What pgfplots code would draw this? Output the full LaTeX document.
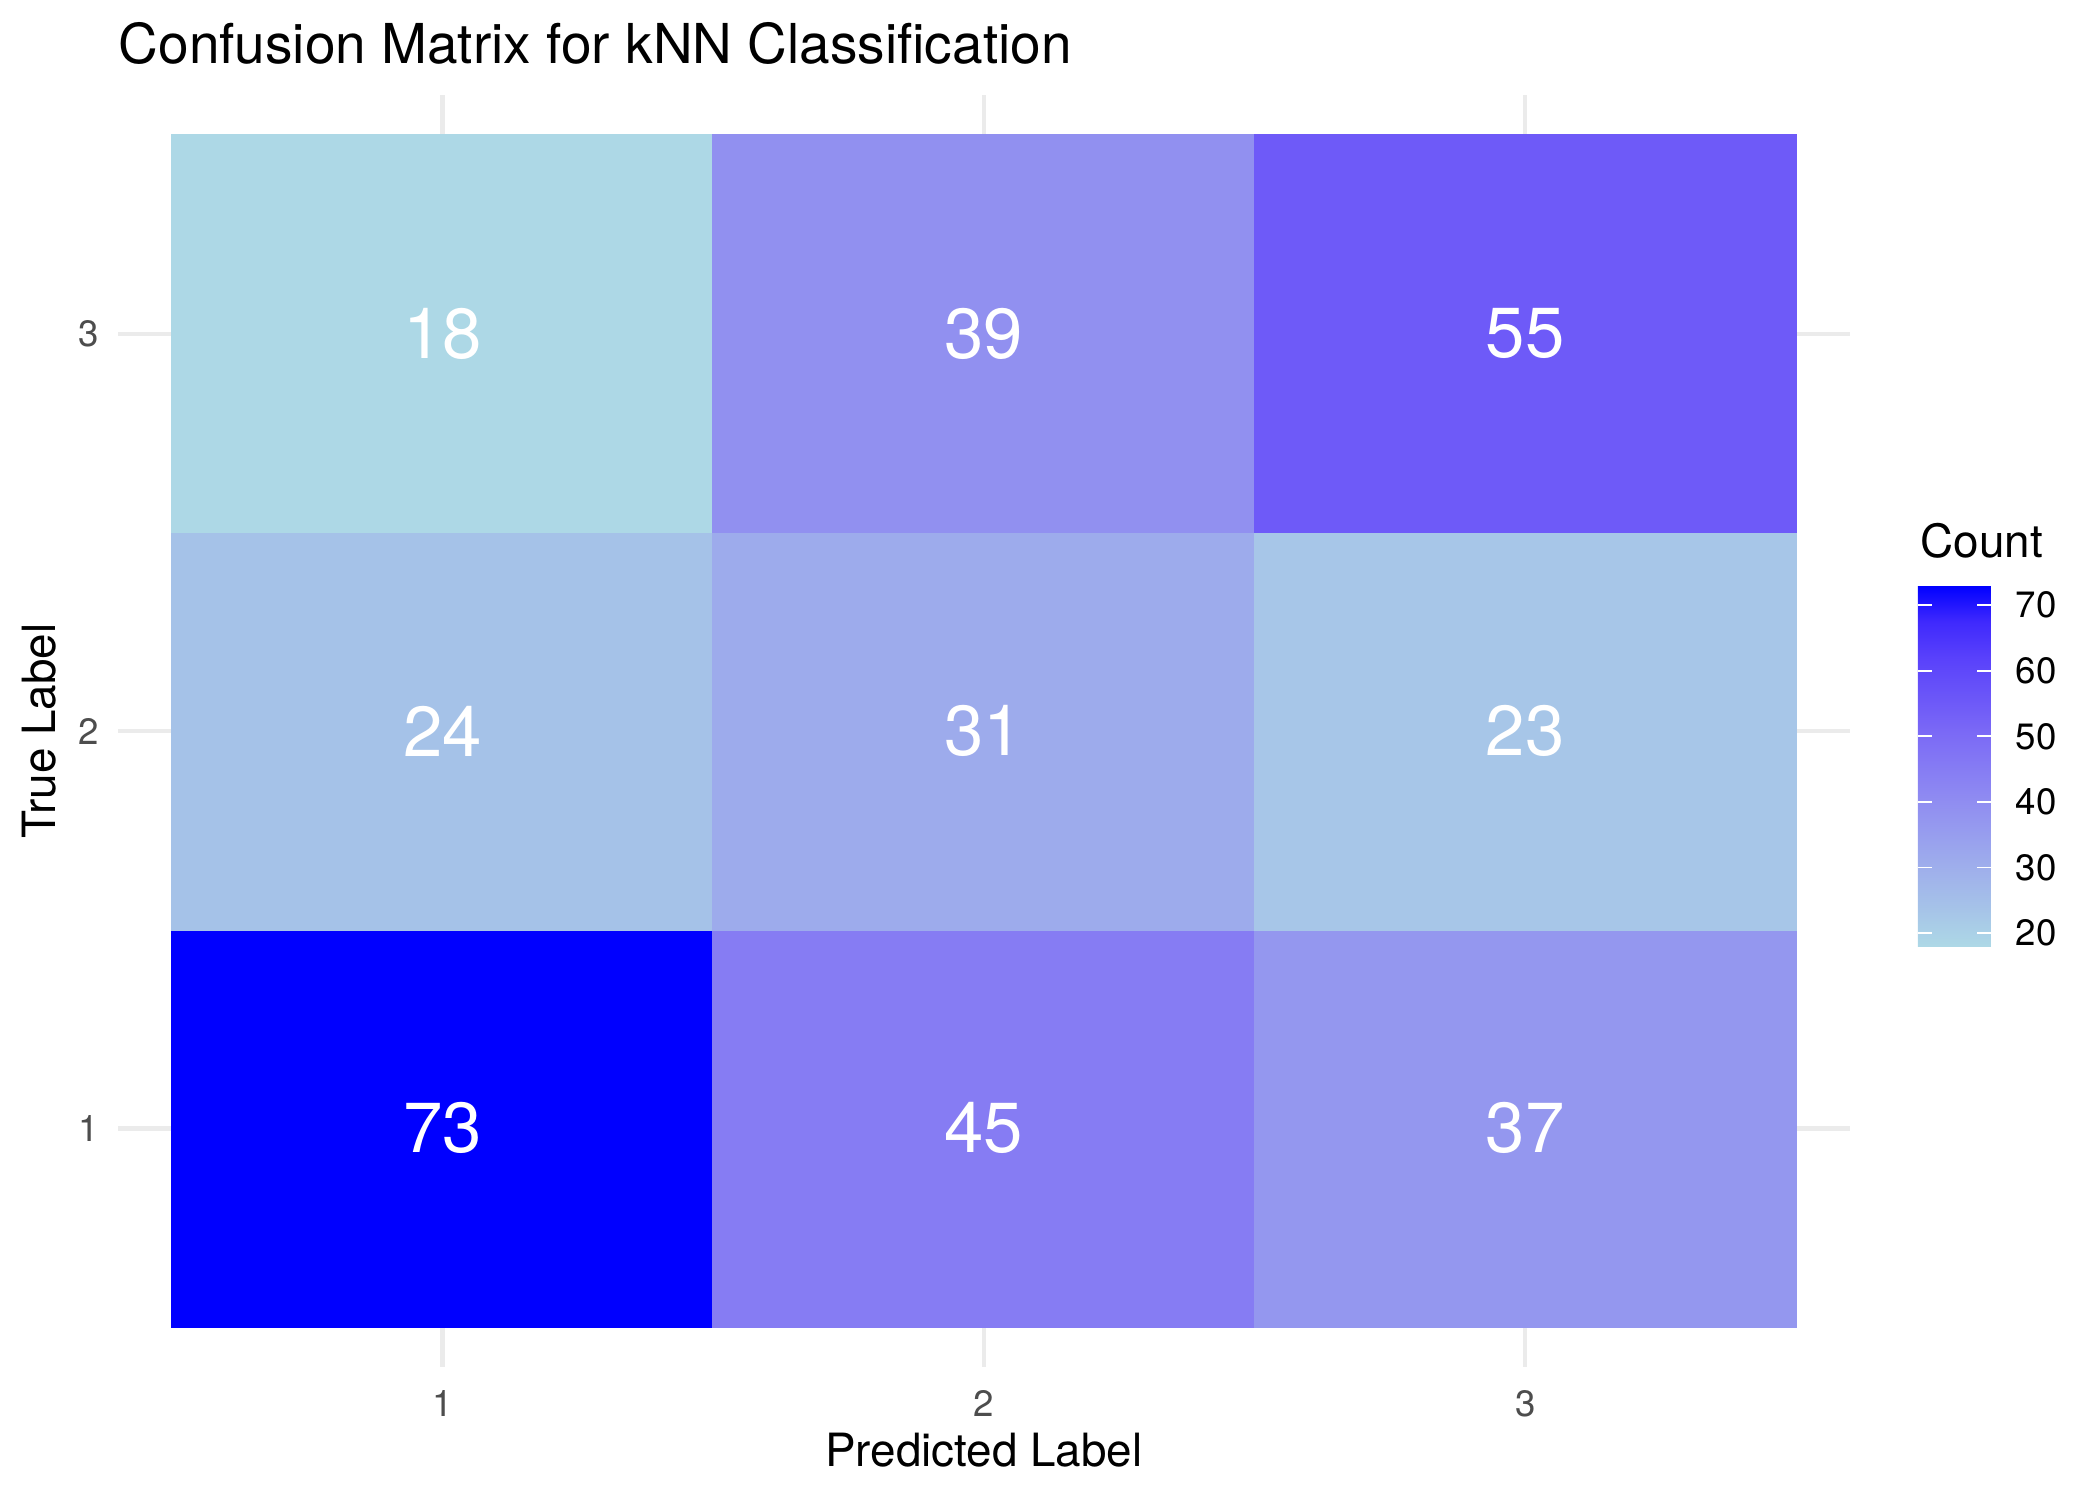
\documentclass[border=0pt]{standalone}
\usepackage{fontspec}
\setmainfont{TeX Gyre Heros}
\usepackage{pgfplots}
\pgfplotsset{compat=1.18}
\usepackage{pgfplotstable}
\definecolor{gridc}{HTML}{EBEBEB}
\definecolor{tickc}{HTML}{4D4D4D}

\pgfplotstableread{
x y c
1 1 73
2 1 45
3 1 37
1 2 24
2 2 31
3 2 23
1 3 18
2 3 39
3 3 55
}\cmdata

\begin{document}
\begin{tikzpicture}
\useasboundingbox (0,0) rectangle (504pt,360pt);
\begin{axis}[
  at={(28.3pt,32pt)}, anchor=south west, scale only axis,
  width=415.7pt, height=305.1pt,
  xmin=0.4, xmax=3.6, ymin=0.4, ymax=3.6,
  xtick={1,2,3}, ytick={1,2,3},
  axis line style={draw=none}, major tick length=0pt,
  xmajorgrids, ymajorgrids, grid style={gridc, line width=1.07pt},
  /pgf/number format/assume math mode=true,
  ticklabel style={font=\fontsize{8.8}{10}\selectfont, text=tickc},
  xticklabel style={anchor=north, inner sep=0pt, yshift=-5.5pt},
  yticklabel style={anchor=east, inner sep=0pt, xshift=-4.4pt},
  title={Confusion Matrix for kNN Classification},
  title style={at={(0,1.0252)}, anchor=base west, yshift=-6pt, inner sep=0pt, font=\fontsize{13.2}{15}\selectfont},
  xlabel={Predicted Label},
  xlabel style={at={(0.5,-0.0787)}, anchor=base, inner sep=0pt, font=\fontsize{11}{13}\selectfont},
  ylabel={True Label},
  ylabel style={at={(-0.0363,0.5)}, anchor=base, rotate=0, inner sep=0pt, font=\fontsize{11}{13}\selectfont},
  colormap={gg}{rgb255(0)=(173,216,230); rgb255(1)=(166,196,232); rgb255(2)=(160,178,235); rgb255(4)=(144,141,241); rgb255(6)=(122,104,246); rgb255(8)=(89,65,251); rgb255(9)=(63,41,253); rgb255(10)=(0,0,255)},
  point meta min=18, point meta max=73,
  colorbar,
  colorbar/width=17.5pt,
  colorbar shift/.style={},
  colorbar style={
    at={(parent axis.north east)}, anchor=north west, xshift=16.3pt, yshift=-117.6pt,
    scale only axis, width=17.5pt, height=86.6pt,
    ytick={20,30,40,50,60,70},
    axis line style={draw=none},
    ytick style={draw=white, line width=0.4pt},
    major tick length=3.4pt, tick align=inside,
    ytick pos=both, yticklabel pos=right,
    /pgf/number format/assume math mode=true,
    yticklabel style={font=\fontsize{8.8}{10}\selectfont, text=black, anchor=west, inner sep=0pt, xshift=5.8pt},
  },
]
\addplot[matrix plot*, mesh/cols=3, point meta=explicit] table[x=x, y=y, meta=c] {\cmdata};
\addplot[only marks, mark=none, point meta=explicit symbolic, nodes near coords,
  nodes near coords style={anchor=center, text=white, font=\fontsize{17}{20}\selectfont, inner sep=0pt}]
  table[x=x, y=y, meta=c] {\cmdata};
\end{axis}
\node[anchor=base west, inner sep=0pt, font=\fontsize{11}{13}\selectfont] at (460.8pt,226.1pt) {Count};
\end{tikzpicture}
\end{document}
